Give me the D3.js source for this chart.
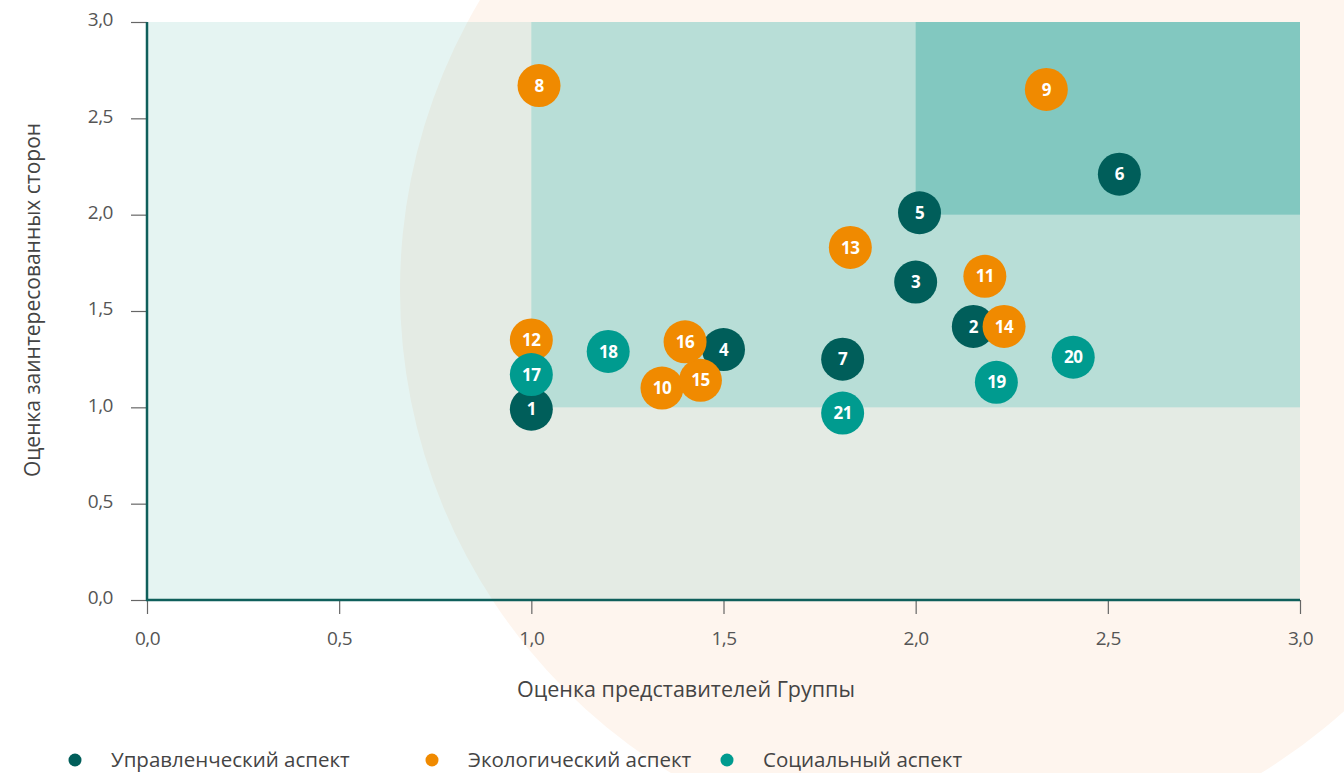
<!DOCTYPE html>
<html><head><meta charset="utf-8">
<script src="https://cdn.jsdelivr.net/npm/d3@7"></script>
<style>
body{margin:0;background:#fff;overflow:hidden}
svg{display:block}
text{font-family:"Open Sans",sans-serif}
</style></head>
<body><svg id="c" width="1344" height="773"></svg>
<script>
const ids = [1,2,3,4,5,6,7,8,9,10,11,12,13,14,15,16,17,18,19,20,21];
const groupX = [1.00,2.15,2.00,1.50,2.01,2.53,1.81,1.02,2.34,1.34,2.18,1.00,1.83,2.23,1.44,1.40,1.00,1.20,2.21,2.41,1.81];
const stakeY = [0.99,1.42,1.65,1.30,2.01,2.21,1.25,2.67,2.65,1.10,1.68,1.35,1.83,1.42,1.14,1.34,1.17,1.29,1.13,1.26,0.97];
const aspect = ["g","g","g","g","g","g","g","e","e","e","e","e","e","e","e","e","s","s","s","s","s"];
const categories = ["Управленческий аспект","Экологический аспект","Социальный аспект"];
const categoryKeys = ["g","e","s"];
const tickValues = [0,0.5,1,1.5,2,2.5,3];
const colors = {g:"#005e5a", e:"#f08a00", s:"#009b8f"};

const svg = d3.select("#c");
const x = d3.scaleLinear().domain([0,3]).range([147,1300]);
const y = d3.scaleLinear().domain([0,3]).range([600,22]);
const fmt = d => d3.format(".1f")(d).replace(".", ",");

// peach background circle
svg.append("circle").attr("cx",966).attr("cy",290).attr("r",566).attr("fill","#fef5ee");

// zones
svg.append("rect").attr("x",x(0)).attr("y",y(3)).attr("width",x(3)-x(0)).attr("height",y(0)-y(3))
  .attr("fill","#6ec0b8").attr("fill-opacity",0.18);
svg.append("rect").attr("x",x(1)).attr("y",y(3)).attr("width",x(3)-x(1)).attr("height",y(1)-y(3))
  .attr("fill","#b8ded7");
svg.append("rect").attr("x",x(2)).attr("y",y(3)).attr("width",x(3)-x(2)).attr("height",y(2)-y(3))
  .attr("fill","#82c8c0");

// axes
const yAxis = d3.axisLeft(y).tickValues(tickValues).tickFormat(fmt).tickSize(16).tickPadding(18);
const gy = svg.append("g").attr("transform",`translate(${x(0)},0)`).call(yAxis);
const xAxis = d3.axisBottom(x).tickValues(tickValues).tickFormat(fmt).tickSize(14).tickPadding(20);
const gx = svg.append("g").attr("transform",`translate(0,${y(0)})`).call(xAxis);
[gx,gy].forEach(g=>{
  g.select(".domain").remove();
  g.selectAll(".tick line").attr("stroke","#666").attr("stroke-width",1.2);
  g.selectAll(".tick text").attr("fill","#555").style("font-size","19px").style("letter-spacing","-0.5px");
});
gy.selectAll(".tick text").attr("dy","0.2em");
gx.selectAll(".tick text").attr("dy","0.6em");
svg.append("line").attr("x1",x(0)).attr("x2",x(0)).attr("y1",y(3)).attr("y2",y(0)+1)
  .attr("stroke","#0f5f5b").attr("stroke-width",2.5);
svg.append("line").attr("x1",x(0)-1).attr("x2",x(3)).attr("y1",y(0)).attr("y2",y(0))
  .attr("stroke","#0f5f5b").attr("stroke-width",2.5);

// axis titles
svg.append("text").attr("x",686).attr("y",697).attr("text-anchor","middle")
  .attr("fill","#444").style("font-size","21.5px").text("Оценка представителей Группы");
svg.append("text").attr("transform","translate(40,300) rotate(-90)").attr("text-anchor","middle")
  .attr("fill","#444").style("font-size","21px").text("Оценка заинтересованных сторон");

// bubbles
const data = ids.map((id,i)=>({id, gx:groupX[i], sy:stakeY[i], a:aspect[i]}));
const nodes = svg.append("g").selectAll("g").data(data).join("g")
  .attr("transform",d=>`translate(${x(d.gx)},${y(d.sy)})`);
nodes.append("circle").attr("r",21.5).attr("fill",d=>colors[d.a]);
nodes.append("text").attr("text-anchor","middle").attr("dy","0.36em")
  .attr("fill","#fff").style("font-size","17px").style("font-weight","bold").style("letter-spacing","-0.5px").text(d=>d.id);

// legend
const legX = [75,432,727];
const leg = svg.append("g").selectAll("g").data(categories).join("g")
  .attr("transform",(d,i)=>`translate(${legX[i]},760)`);
leg.append("circle").attr("r",6.5).attr("fill",(d,i)=>colors[categoryKeys[i]]);
leg.append("text").attr("x",36).attr("dy","0.33em").attr("fill","#444").style("font-size","20.5px").text(d=>d);
</script></body></html>
